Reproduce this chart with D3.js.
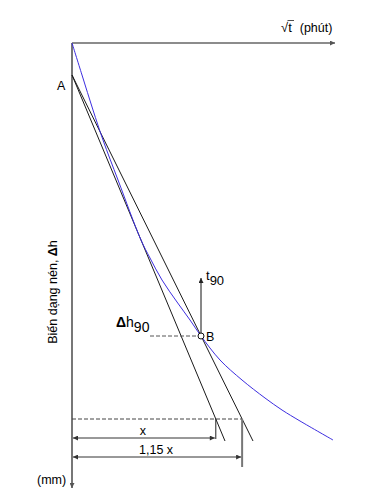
<!DOCTYPE html>
<html>
<head>
    <meta charset="utf-8">
    <title></title>
    <style>
        body { margin: 0; background: white; }
        svg { display: block; font-family: "Liberation Sans", Arial, sans-serif; }
    </style>
</head>
<body>
    <script src="https://cdnjs.cloudflare.com/ajax/libs/d3/7.8.5/d3.min.js"></script>
    <script>

// settlement curve, sqrt(t) vs deformation
var curveX = [0, 0.5, 1.05, 1.55, 2.3, 3.45, 3.9, 4.5, 5.25, 5.9, 6.45, 7.4, 8.5, 9.65, 10.5, 11.4, 13.05];
var curveY = [0, 1.6, 3.35, 4.85, 6.85, 9.85, 10.75, 11.85, 12.95, 13.85, 14.65, 15.85, 16.85, 17.75, 18.35, 18.9, 19.85];

// point A and the two straight lines drawn from it
var pointA = [0, 1.6];
var lineEndX = [7.65, 9.05];   // x, 1,15 x
var lineEndY = 19.9;
var levelY = 18.8;             // dashed reading level

// point B (t90, dh90)
var pointB = [6.45, 14.65];
var t90Top = 11.75;
var dh90Start = 3.9;

// extent of the axes
var axisMaxX = 13.15;
var axisMaxY = 22.25;
var dimRows = [19.75, 20.7];
var dimTickEnds = [19.8, 21.2];
var dimLabels = ["x", "1,15 x"];

var width = 389, height = 498;
var x = d3.scaleLinear().domain([0, 13]).range([72, 332]);
var y = d3.scaleLinear().domain([0, 22]).range([43, 483]);

var svg = d3.select("body").append("svg")
    .attr("width", width)
    .attr("height", height);

var defs = svg.append("defs");
function marker(id, color, orient) {
    defs.append("marker")
        .attr("id", id)
        .attr("viewBox", "0 0 10 10")
        .attr("refX", 10).attr("refY", 5)
        .attr("markerWidth", 6).attr("markerHeight", 5)
        .attr("markerUnits", "userSpaceOnUse")
        .attr("orient", orient)
        .append("path")
        .attr("d", "M0,0L10,5L0,10z")
        .attr("fill", color);
}
marker("arr", "#222", "auto");
marker("arrGray", "#555", "auto");
marker("arrBoth", "#333", "auto-start-reverse");

// axes
svg.append("line")
    .attr("x1", x(0)).attr("y1", y(0))
    .attr("x2", x(axisMaxX)).attr("y2", y(0))
    .attr("stroke", "#666").attr("stroke-width", 1.6)
    .attr("marker-end", "url(#arrGray)");
svg.append("line")
    .attr("x1", x(0)).attr("y1", y(0))
    .attr("x2", x(0)).attr("y2", y(axisMaxY))
    .attr("stroke", "#777").attr("stroke-width", 2)
    .attr("marker-end", "url(#arrGray)");

// straight lines from A
svg.selectAll(".tan").data(lineEndX).enter().append("line")
    .attr("class", "tan")
    .attr("x1", x(pointA[0])).attr("y1", y(pointA[1]))
    .attr("x2", function (d) { return x(d); })
    .attr("y2", y(lineEndY))
    .attr("stroke", "#1a1a1a").attr("stroke-width", 1);

// x position of each line at a given level
function lineAt(endX, yy) {
    return pointA[0] + (endX - pointA[0]) * (yy - pointA[1]) / (lineEndY - pointA[1]);
}
var hits = lineEndX.map(function (d) { return lineAt(d, levelY); });

// dashed level line
svg.append("line")
    .attr("x1", x(0)).attr("y1", y(levelY))
    .attr("x2", x(hits[1])).attr("y2", y(levelY))
    .attr("stroke", "#444").attr("stroke-width", 1)
    .attr("stroke-dasharray", "4,2");

// dimension ticks
svg.selectAll(".dimtick").data(hits).enter().append("line")
    .attr("class", "dimtick")
    .attr("x1", function (d) { return x(d); })
    .attr("x2", function (d) { return x(d); })
    .attr("y1", y(levelY))
    .attr("y2", function (d, i) { return y(dimTickEnds[i]); })
    .attr("stroke", function (d, i) { return i ? "#777" : "#222"; })
    .attr("stroke-width", function (d, i) { return i ? 2 : 1; });

// dimension arrows
svg.selectAll(".dim").data(hits).enter().append("line")
    .attr("class", "dim")
    .attr("x1", x(0) + 1)
    .attr("x2", function (d) { return x(d) - 1; })
    .attr("y1", function (d, i) { return y(dimRows[i]); })
    .attr("y2", function (d, i) { return y(dimRows[i]); })
    .attr("stroke", "#333").attr("stroke-width", 1)
    .attr("marker-start", "url(#arrBoth)")
    .attr("marker-end", "url(#arrBoth)");

svg.selectAll(".dimlabel").data(dimLabels).enter().append("text")
    .attr("class", "dimlabel")
    .attr("x", function (d, i) { return (x(0) + x(hits[i])) / 2 - 1; })
    .attr("y", function (d, i) { return y(dimRows[i]) - 3; })
    .attr("text-anchor", "middle")
    .attr("font-size", 12.5)
    .text(function (d) { return d; });

// consolidation curve
var pts = curveX.map(function (d, i) { return [d, curveY[i]]; });
svg.append("path")
    .datum(pts)
    .attr("d", d3.line()
        .x(function (d) { return x(d[0]); })
        .y(function (d) { return y(d[1]); })
        .curve(d3.curveCatmullRom))
    .attr("fill", "none")
    .attr("stroke", "#3d2ee0").attr("stroke-width", 1);

// dh90 dashed line and t90 arrow
svg.append("line")
    .attr("x1", x(dh90Start)).attr("y1", y(pointB[1]))
    .attr("x2", x(pointB[0])).attr("y2", y(pointB[1]))
    .attr("stroke", "#555").attr("stroke-width", 1)
    .attr("stroke-dasharray", "4,2");
svg.append("line")
    .attr("x1", x(pointB[0])).attr("y1", y(pointB[1]))
    .attr("x2", x(pointB[0])).attr("y2", y(t90Top))
    .attr("stroke", "#111").attr("stroke-width", 1)
    .attr("marker-end", "url(#arr)");
svg.append("circle")
    .attr("cx", x(pointB[0])).attr("cy", y(pointB[1]))
    .attr("r", 3)
    .attr("fill", "white").attr("stroke", "#111").attr("stroke-width", 1);

// labels
svg.append("text").attr("x", x(pointB[0]) + 5).attr("y", y(pointB[1]) + 5)
    .attr("font-size", 12.5).text("B");
svg.append("text").attr("x", 57).attr("y", y(pointA[1]) + 15)
    .attr("font-size", 12.5).text("A");

var t90 = svg.append("text").attr("x", x(pointB[0]) + 5).attr("y", y(t90Top) + 2)
    .attr("font-size", 13);
t90.append("tspan").text("t");
t90.append("tspan").attr("dy", 5).text("90");

var dh = svg.append("text").attr("x", 116).attr("y", y(pointB[1]) - 9)
    .attr("font-size", 14);
dh.append("tspan").attr("font-weight", "bold").text("\u0394");
dh.append("tspan").text("h");
dh.append("tspan").attr("dy", 5).text("90");

var xTitle = svg.append("text").attr("x", 281).attr("y", 32).attr("font-size", 13);
xTitle.append("tspan").text("\u221At");
xTitle.append("tspan").attr("dx", 8).attr("font-size", 12.5).text("(phút)");
// radical bar over the t
svg.append("line")
    .attr("x1", 287.5).attr("x2", 294).attr("y1", 20.5).attr("y2", 20.5)
    .attr("stroke", "#222").attr("stroke-width", 0.8);

svg.append("text").attr("x", 37).attr("y", 484).attr("font-size", 12.5).text("(mm)");

var ylab = svg.append("text")
    .attr("transform", "translate(57,292) rotate(-90)")
    .attr("text-anchor", "middle")
    .attr("font-size", 12.5);
ylab.append("tspan").text("Biến dạng nén, ");
ylab.append("tspan").attr("font-weight", "bold").text("\u0394");
ylab.append("tspan").text("h");

    </script>
</body>
</html>
